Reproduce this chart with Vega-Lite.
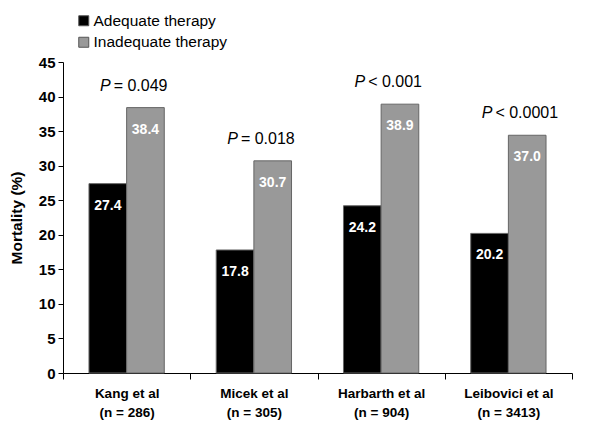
{
  "$schema": "https://vega.github.io/schema/vega-lite/v6.json",
  "width": 509,
  "height": 311,
  "autosize": {"type": "none"},
  "padding": {"left": 63, "top": 62, "right": 28, "bottom": 60},
  "background": "white",
  "config": {
    "view": {"stroke": null},
    "font": "Liberation Sans",
    "text": {"font": "Liberation Sans"}
  },
  "datasets": {
    "bars": [
      {"study": "Kang et al|(n = 286)", "therapy": "Adequate therapy", "value": 27.4, "label": "27.4"},
      {"study": "Kang et al|(n = 286)", "therapy": "Inadequate therapy", "value": 38.4, "label": "38.4"},
      {"study": "Micek et al|(n = 305)", "therapy": "Adequate therapy", "value": 17.8, "label": "17.8"},
      {"study": "Micek et al|(n = 305)", "therapy": "Inadequate therapy", "value": 30.7, "label": "30.7"},
      {"study": "Harbarth et al|(n = 904)", "therapy": "Adequate therapy", "value": 24.2, "label": "24.2"},
      {"study": "Harbarth et al|(n = 904)", "therapy": "Inadequate therapy", "value": 38.9, "label": "38.9"},
      {"study": "Leibovici et al|(n = 3413)", "therapy": "Adequate therapy", "value": 20.2, "label": "20.2"},
      {"study": "Leibovici et al|(n = 3413)", "therapy": "Inadequate therapy", "value": 34.4, "label": "37.0"}
    ],
    "pvals": [
      {"study": "Kang et al|(n = 286)", "top": 38.4, "rest": "= 0.049"},
      {"study": "Micek et al|(n = 305)", "top": 30.7, "rest": "= 0.018"},
      {"study": "Harbarth et al|(n = 904)", "top": 38.9, "rest": "< 0.001"},
      {"study": "Leibovici et al|(n = 3413)", "top": 34.4, "rest": "< 0.0001"}
    ]
  },
  "layer": [
    {
      "data": {"name": "bars"},
      "mark": {"type": "bar", "stroke": "#666666", "strokeWidth": 1},
      "encoding": {
        "x": {
          "field": "study", "type": "nominal", "sort": null,
          "scale": {"paddingInner": 0, "paddingOuter": 0},
          "axis": {
            "title": null, "labelAngle": 0, "labelExpr": "split(datum.label, '|')",
            "labelFontWeight": "bold", "labelFontSize": 13.5, "labelLineHeight": 19,
            "labelColor": "black", "labelPadding": 7, "tickBand": "extent",
            "tickSize": 6, "tickColor": "black", "domainColor": "black", "labelFont": "Liberation Sans"
          }
        },
        "xOffset": {
          "field": "therapy", "type": "nominal",
          "scale": {"paddingInner": 0, "paddingOuter": 0.69}
        },
        "y": {
          "field": "value", "type": "quantitative", "title": "Mortality (%)",
          "scale": {"domain": [0, 45], "nice": false},
          "axis": {
            "tickCount": 9, "grid": false,
            "labelOverlap": false, "labelBound": false, "labelFlush": false,
            "labelFontWeight": "bold", "labelFontSize": 15, "labelColor": "black",
            "labelPadding": 3, "tickSize": 5, "tickColor": "black", "domainColor": "black",
            "titleFontSize": 15.5, "titleFontWeight": "bold", "titleColor": "black",
            "titlePadding": 14, "labelFont": "Liberation Sans", "titleFont": "Liberation Sans"
          }
        },
        "fill": {
          "field": "therapy", "type": "nominal",
          "scale": {"domain": ["Adequate therapy", "Inadequate therapy"], "range": ["#000000", "#999999"]},
          "legend": {
            "title": null, "orient": "none", "legendX": 13, "legendY": -49,
            "symbolType": "square", "symbolSize": 100, "symbolStrokeColor": "#555555",
            "symbolStrokeWidth": 1, "labelFontSize": 15.5, "labelColor": "black",
            "labelFont": "Liberation Sans", "labelOffset": 2, "rowPadding": 4.5, "padding": 0
          }
        }
      }
    },
    {
      "data": {"name": "bars"},
      "mark": {"type": "text", "color": "white", "fontWeight": "bold", "fontSize": 14, "baseline": "middle", "dy": 22},
      "encoding": {
        "x": {"field": "study", "type": "nominal", "sort": null},
        "xOffset": {"field": "therapy", "type": "nominal"},
        "y": {"field": "value", "type": "quantitative"},
        "text": {"field": "label"}
      }
    },
    {
      "data": {"name": "pvals"},
      "mark": {"type": "text", "color": "black", "fontStyle": "italic", "fontSize": 16, "baseline": "middle", "align": "right", "dx": -16, "dy": -22, "text": "P"},
      "encoding": {
        "x": {"field": "study", "type": "nominal", "sort": null},
        "y": {"field": "top", "type": "quantitative"}
      }
    },
    {
      "data": {"name": "pvals"},
      "mark": {"type": "text", "color": "black", "fontSize": 16, "baseline": "middle", "align": "left", "dx": -13, "dy": -22},
      "encoding": {
        "x": {"field": "study", "type": "nominal", "sort": null},
        "y": {"field": "top", "type": "quantitative"},
        "text": {"field": "rest"}
      }
    }
  ]
}
